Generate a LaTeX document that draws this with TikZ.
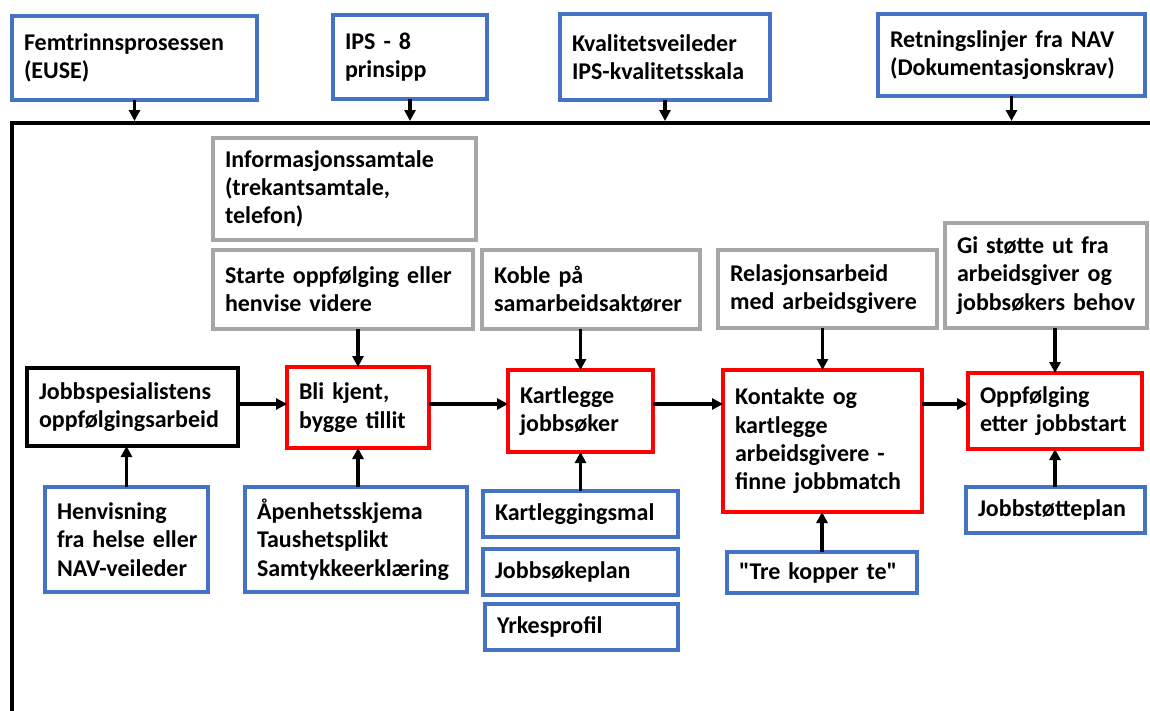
\documentclass[tikz,border=0pt]{standalone}
\usepackage{fontspec}
\setmainfont{Carlito}
\newfontfamily\plainfont{Carlito}
\usetikzlibrary{arrows.meta}
\definecolor{bblue}{HTML}{4472C4}
\definecolor{bgray}{HTML}{A6A6A6}
\definecolor{bred}{HTML}{FF0000}
\tikzset{
  base/.style={draw, line width=4pt, anchor=north west, outer sep=0pt,
    inner xsep=12pt, inner ysep=3pt, align=left,
    font=\fontsize{24}{28.3}\selectfont\bfseries,
    execute at begin node={\hyphenpenalty=10000\exhyphenpenalty=10000\hbadness=10000\hfuzz=200pt}},
  bluebox/.style={base, draw=bblue},
  graybox/.style={base, draw=bgray},
  redbox/.style={base, draw=bred},
  blackbox/.style={base, draw=black},
  sz/.code 2 args={\pgfmathsetmacro\mytw{#1-24}%
    \edef\mytmp{\noexpand\tikzset{minimum width=#1pt,minimum height=#2pt,text width=\mytw pt}}\mytmp},
  arr/.style={line width=3.5pt, -{Triangle[length=11pt,width=11pt]}},
  frameline/.style={line width=4pt, line cap=rect}
}
\begin{document}
\begin{tikzpicture}[x=1pt,y=-1pt]
\useasboundingbox[fill=white] (0,0) rectangle (1150,710);
% frame
\draw[frameline] (1152,123) -- (12,123) -- (12,712);
\coordinate (ftop) at (0,121);
\coordinate (row) at (0,404);
% top boxes
\node[bluebox, sz={245}{84}] (femtrinn) at (12,16) {Femtrinnsprosessen\\(EUSE)};
\node[bluebox, sz={154}{84}] (ips) at (333,15) {IPS~-~8\\prinsipp};
\node[bluebox, sz={210}{86}] (kval) at (560,14) {Kvalitetsveileder\\IPS-kvalitetsskala};
\node[bluebox, sz={267}{82}] (retn) at (878,14) {Retningslinjer~fra~NAV\\(Dokumentasjonskrav)};
% gray boxes
\node[graybox, sz={263}{102}] (info) at (213,138) {Informasjonssamtale\\(trekantsamtale,\\telefon)};
\node[graybox, sz={260}{79}] (starte) at (213,250) {Starte~oppfølging~eller\\henvise~videre};
\node[graybox, sz={218}{79}] (koble) at (482,250) {Koble~på\\samarbeidsaktører};
\node[graybox, sz={219}{78}] (relasjon) at (718,250) {Relasjonsarbeid\\med~arbeidsgivere};
\node[graybox, sz={202}{105}] (gistotte) at (945,223) {Gi~støtte~ut~fra\\arbeidsgiver~og\\jobbsøkers~behov};
% main row
\node[blackbox, sz={211}{78}] (jobbspes) at (27,368) {Jobbspesialistens\\oppfølgingsarbeid};
\node[redbox, sz={142}{81}] (blikjent) at (287,367) {Bli~kjent,\\bygge~tillit};
\node[redbox, sz={145}{82}] (kartlegge) at (508,370) {Kartlegge\\jobbsøker};
\node[redbox, sz={199}{142}] (kontakte) at (723,370) {Kontakte~og\\kartlegge\\arbeidsgivere~-\\finne~jobbmatch};
\node[redbox, sz={174}{76}] (oppfolging) at (968,373) {Oppfølging\\etter~jobbstart};
% bottom boxes
\node[bluebox, sz={163}{105}] (henvisning) at (45,487) {Henvisning\\fra~helse~eller\\NAV-veileder};
\node[bluebox, sz={222}{105}] (aapen) at (245,487) {Åpenhetsskjema\\Taushetsplikt\\Samtykkeerklæring};
\node[bluebox, sz={195}{46}] (kmal) at (483,491) {Kartleggingsmal};
\node[bluebox, sz={195}{46}] (jplan) at (483,549) {Jobbsøkeplan};
\node[bluebox, sz={193}{46}] (yrkes) at (485,604) {Yrkesprofil};
\node[bluebox, sz={190}{41}] (trekopper) at (727,552) {{\plainfont\bfseries "Tre~kopper~te"}};
\node[bluebox, sz={179}{46}] (jstotte) at (966,487) {Jobbstøtteplan};
% arrows from top boxes to frame
\draw[arr] (femtrinn.south) -- (femtrinn.south |- ftop);
\draw[arr] (ips.south) -- (ips.south |- ftop);
\draw[arr] (kval.south) -- (kval.south |- ftop);
\draw[arr] (retn.south) -- (retn.south |- ftop);
% gray to red
\draw[arr] (blikjent.north |- starte.south) -- (blikjent.north);
\draw[arr] (kartlegge.north |- koble.south) -- (kartlegge.north);
\draw[arr] (kontakte.north |- relasjon.south) -- (kontakte.north);
\draw[arr] (oppfolging.north |- gistotte.south) -- (oppfolging.north);
% main row
\draw[arr] (jobbspes.east |- row) -- (blikjent.west |- row);
\draw[arr] (blikjent.east |- row) -- (kartlegge.west |- row);
\draw[arr] (kartlegge.east |- row) -- (kontakte.west |- row);
\draw[arr] (kontakte.east |- row) -- (oppfolging.west |- row);
% bottom to main
\draw[arr] (henvisning.north) -- (henvisning.north |- jobbspes.south);
\draw[arr] (aapen.north -| blikjent.south) -- (blikjent.south);
\draw[arr] (kmal.north) -- (kmal.north |- kartlegge.south);
\draw[arr] (trekopper.north) -- (trekopper.north |- kontakte.south);
\draw[arr] (jstotte.north -| oppfolging.south) -- (oppfolging.south);
\end{tikzpicture}
\end{document}
